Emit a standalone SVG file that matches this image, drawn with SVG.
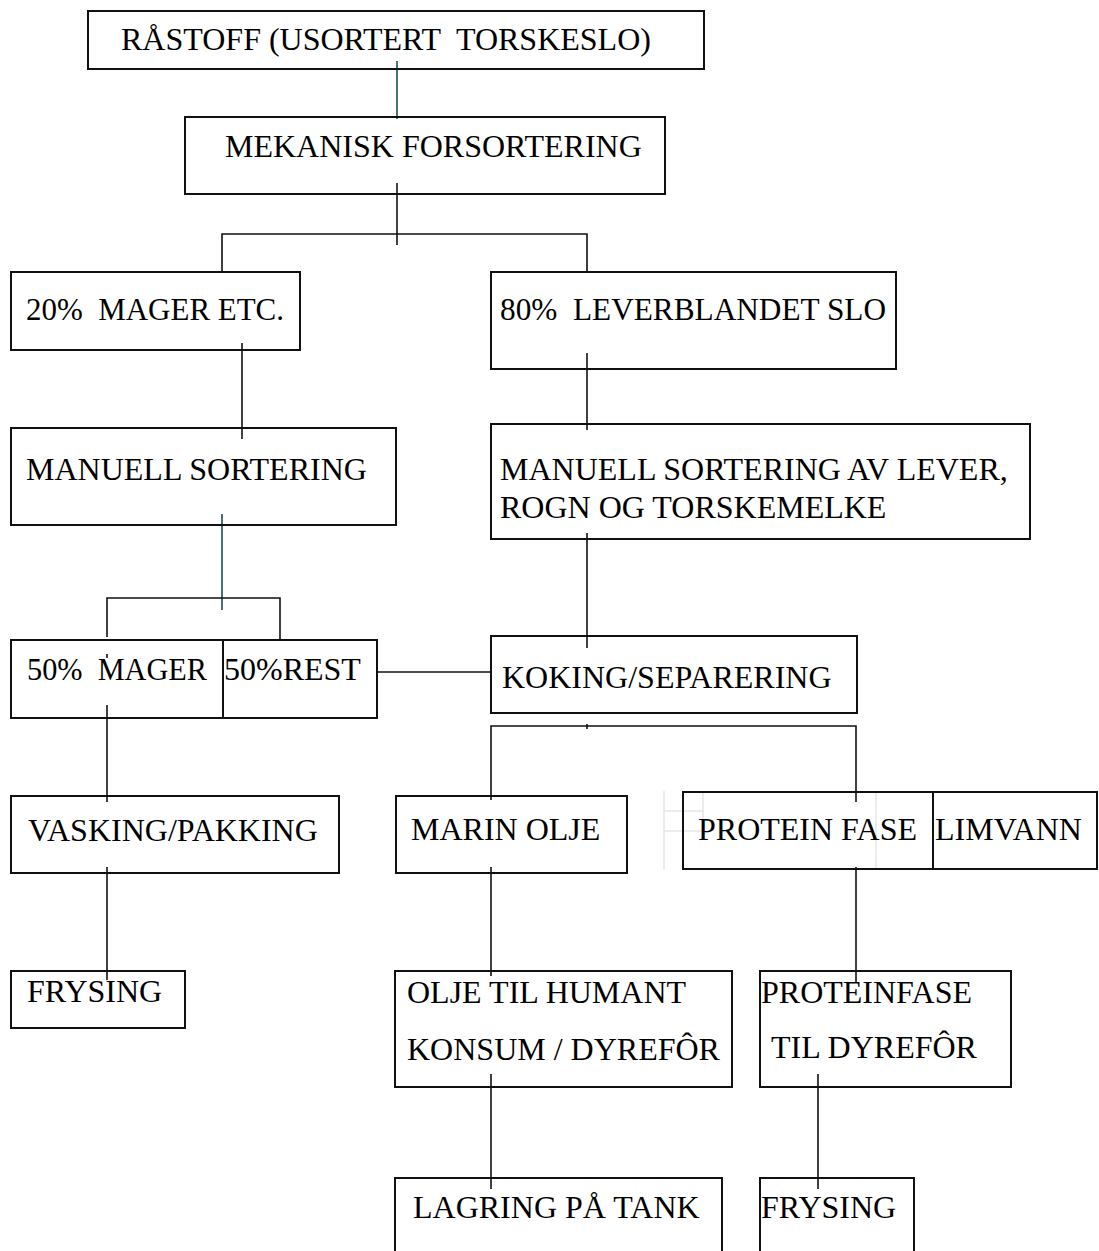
<svg xmlns="http://www.w3.org/2000/svg" width="1099" height="1251" viewBox="0 0 1099 1251">
<style>
.b{fill:none;stroke:#111;stroke-width:2}
.t{font-family:"Liberation Serif","Times New Roman",serif;font-size:32px;fill:#000;white-space:pre}
.c{fill:none;stroke:#111;stroke-width:1.6}
.teal{stroke:#1d4f4f}
.f{fill:none;stroke:#e6e6e6;stroke-width:1.5}
</style>
<rect x="0" y="0" width="1099" height="1251" fill="#fff"/>
<g id="faint">
<path class="f" d="M664,791V870M664,811H703M664,831H703M703,791V831M876,792V869"/>
</g>
<g id="connectors">
<path class="c teal" d="M397,61V119"/>
<path class="c" d="M397,183V245"/>
<path class="c" d="M222,272V234H587V272"/>
<path class="c" d="M242,343V439"/>
<path class="c" d="M587,353V430"/>
<path class="c teal" d="M222,514V610"/>
<path class="c" d="M107,637V598H280V640"/>
<path class="c" d="M107,654V658"/>
<path class="c" d="M107,705V802"/>
<path class="c" d="M377,672H491"/>
<path class="c" d="M587,533V648"/>
<path class="c" d="M491,800V726H856V802"/>
<path class="c" d="M587,724V729"/>
<path class="c" d="M107,867V980"/>
<path class="c" d="M491,867V976"/>
<path class="c" d="M856,867V982"/>
<path class="c" d="M491,1074V1189"/>
<path class="c" d="M818,1074V1189"/>
</g>
<g id="n-raastoff"><rect class="b" x="88" y="11" width="616" height="58"/><text class="t" x="121" y="50">RÅSTOFF (USORTERT  TORSKESLO)</text></g>
<g id="n-mekanisk"><rect class="b" x="185" y="117" width="480" height="77"/><text class="t" x="225" y="157">MEKANISK FORSORTERING</text></g>
<g id="n-20"><rect class="b" x="11" y="272" width="289" height="78"/><text class="t" x="26" y="320" textLength="258" lengthAdjust="spacingAndGlyphs">20%  MAGER ETC.</text></g>
<g id="n-80"><rect class="b" x="491" y="272" width="405" height="97"/><text class="t" x="500" y="320" textLength="386" lengthAdjust="spacingAndGlyphs">80%  LEVERBLANDET SLO</text></g>
<g id="n-manuell"><rect class="b" x="11" y="428" width="385" height="97"/><text class="t" x="26" y="480">MANUELL SORTERING</text></g>
<g id="n-manuell-lever"><rect class="b" x="491" y="424" width="539" height="115"/><text class="t" x="500" y="480">MANUELL SORTERING AV LEVER,</text><text class="t" x="500" y="518">ROGN OG TORSKEMELKE</text></g>
<g id="n-50-mager"><rect class="b" x="11" y="640" width="212" height="78"/><text class="t" x="27" y="680" textLength="180" lengthAdjust="spacingAndGlyphs">50%  MAGER</text></g>
<g id="n-50-rest"><rect class="b" x="223" y="640" width="154" height="78"/><text class="t" x="224" y="680">50%REST</text></g>
<g id="n-koking"><rect class="b" x="491" y="636" width="366" height="77"/><text class="t" x="502" y="688">KOKING/SEPARERING</text></g>
<g id="n-vasking"><rect class="b" x="11" y="796" width="328" height="77"/><text class="t" x="28" y="841">VASKING/PAKKING</text></g>
<g id="n-marin"><rect class="b" x="396" y="796" width="231" height="77"/><text class="t" x="411" y="840">MARIN OLJE</text></g>
<g id="n-protein-fase"><rect class="b" x="683" y="792" width="250" height="77"/><text class="t" x="698" y="840">PROTEIN FASE</text></g>
<g id="n-limvann"><rect class="b" x="933" y="792" width="164" height="77"/><text class="t" x="935" y="840">LIMVANN</text></g>
<g id="n-frysing-1"><rect class="b" x="11" y="971" width="174" height="57"/><text class="t" x="27" y="1002">FRYSING</text></g>
<g id="n-olje"><rect class="b" x="395" y="971" width="337" height="116"/><text class="t" x="407" y="1003">OLJE TIL HUMANT</text><text class="t" x="407" y="1060">KONSUM / DYREFÔR</text></g>
<g id="n-proteinfase"><rect class="b" x="760" y="971" width="251" height="116"/><text class="t" x="761" y="1003">PROTEINFASE</text><text class="t" x="771" y="1058">TIL DYREFÔR</text></g>
<g id="n-lagring"><path class="b" d="M395,1252V1178H722V1252"/><text class="t" x="413" y="1218">LAGRING PÅ TANK</text></g>
<g id="n-frysing-2"><path class="b" d="M760,1252V1178H914V1252"/><text class="t" x="761" y="1218">FRYSING</text></g>
</svg>
